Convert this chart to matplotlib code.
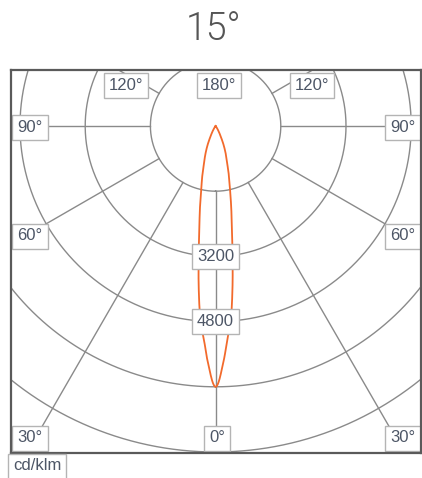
import numpy as np
import matplotlib.pyplot as plt

# ---------------------------------------------------------------------------
# Data: luminous intensity in cd/klm per angle
# ---------------------------------------------------------------------------
beam_title = "15°"
unit_label = "cd/klm"

curve_angles = [0, 2, 3, 4.5, 6, 7.5, 9, 11, 13, 15, 17, 20, 23, 26, 30, 35, 45, 90, 180]
curve_values = [6400, 5750, 5300, 4760, 3970, 3180, 2560, 2000, 1560, 1260,
                990, 730, 500, 290, 140, 45, 0, 0, 0]

ring_values = [1600, 3200, 4800, 6400, 8000]
ring_labels = ["3200", "4800"]          # shown on the 0° axis
spoke_angles = [0, 30, 60, 90, 120, 150, -30, -60, -90, -120, -150]

# angle labels: text, centre in pixels of the 422x478 image
angle_labels = [
    ("180°", 219, 85), ("120°", 126, 85), ("120°", 312, 85),
    ("90°", 30, 127), ("90°", 403, 127),
    ("60°", 30, 236), ("60°", 403, 236),
    ("30°", 30, 438), ("0°", 217, 438), ("30°", 403, 438),
]

# ---------------------------------------------------------------------------
# Geometry
# ---------------------------------------------------------------------------
W, H = 422, 478
CX, CY = 215.6, 126.0          # polar centre in pixels
S = 326.0 / 8000.0             # pixels per cd/klm
FRAME = (11, 421, 70, 453)     # left, right, top, bottom in pixels

GRID = "#8a8a8a"
TEXT = "#4d5666"
ORANGE = "#f26a2c"


def px_to_data(px, py):
    return (px - CX) / S, (CY - py) / S


def polar_xy(theta_deg, r):
    t = np.radians(theta_deg)
    return r * np.sin(t), -r * np.cos(t)


def smooth_curve(xk, yk, n=20):
    # cubic hermite through the read points
    xk = np.asarray(xk, float)
    yk = np.asarray(yk, float)
    xs, ys = [], []
    for i in range(len(xk) - 1):
        x0_, x1_ = xk[i], xk[i + 1]
        p0 = yk[i - 1] if i > 0 else yk[i]
        p1, p2 = yk[i], yk[i + 1]
        p3 = yk[i + 2] if i + 2 < len(yk) else yk[i + 1]
        h0 = xk[i] - xk[i - 1] if i > 0 else x1_ - x0_
        h1 = x1_ - x0_
        h2 = xk[i + 2] - xk[i + 1] if i + 2 < len(xk) else h1
        m1 = (p2 - p0) / (h0 + h1) * h1
        m2 = (p3 - p1) / (h1 + h2) * h1
        t = np.linspace(0, 1, n, endpoint=False)
        h00 = 2 * t**3 - 3 * t**2 + 1
        h10 = t**3 - 2 * t**2 + t
        h01 = -2 * t**3 + 3 * t**2
        h11 = t**3 - t**2
        xs.append(x0_ + t * h1)
        ys.append(h00 * p1 + h10 * m1 + h01 * p2 + h11 * m2)
    xs.append([xk[-1]])
    ys.append([yk[-1]])
    return np.concatenate(xs), np.clip(np.concatenate(ys), 0, None)


fig = plt.figure(figsize=(W / 100, H / 100), dpi=100)
l, r_, t_, b = FRAME
ax = fig.add_axes([l / W, (H - b) / H, (r_ - l) / W, (b - t_) / H])
x0, y1 = px_to_data(l, t_)
x1, y0 = px_to_data(r_, b)
ax.set_xlim(x0, x1)
ax.set_ylim(y0, y1)
ax.set_xticks([])
ax.set_yticks([])
for sp in ax.spines.values():
    sp.set_color("#5a5a5a")
    sp.set_linewidth(1.6)
    sp.set_zorder(10)

# rings
th = np.linspace(0, 360, 721)
for rv in ring_values:
    xs, ys = polar_xy(th, rv)
    ax.plot(xs, ys, color=GRID, lw=1.0, zorder=1)

# spokes (start at the first ring)
for a in spoke_angles:
    xs, ys = polar_xy(np.array([a, a]), np.array([ring_values[0], 12000]))
    ax.plot(xs, ys, color=GRID, lw=1.0, zorder=1)

# light distribution curve, mirrored
ang = np.array(curve_angles, dtype=float)
val = np.array(curve_values, dtype=float)
full_ang = np.concatenate([-ang[::-1], ang[1:]])
full_val = np.concatenate([val[::-1], val[1:]])
sa, sv = smooth_curve(full_ang, full_val)
cx_, cy_ = polar_xy(sa, sv)
ax.plot(cx_, cy_, color=ORANGE, lw=1.3, zorder=3)

box = dict(boxstyle="square,pad=0.3", facecolor="white",
           edgecolor="#b4b4b4", linewidth=1.0)
lab = dict(ha="center", va="center", fontsize=12, color=TEXT,
           family="Liberation Sans", bbox=box)

for txt in ring_labels:
    ax.text(0, -float(txt), txt, zorder=5, **lab)

for txt, px, py in angle_labels:
    dx, dy = px_to_data(px, py)
    ax.text(dx, dy, txt, zorder=5, **lab)

fig.text(37 / W, 1 - 466 / H, unit_label, **lab)

fig.text(214 / W, 1 - 29 / H, beam_title, ha="center", va="center",
         fontsize=27, color="#555555", family=["Roboto", "Liberation Sans"],
         fontweight=300)

fig.savefig("out.png", dpi=100)
